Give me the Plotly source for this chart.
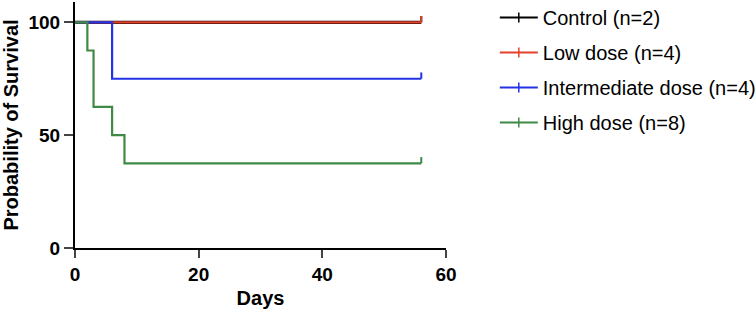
import plotly.graph_objects as go

# Data (Kaplan-Meier steps)
groups = ["Control (n=2)", "Low dose (n=4)", "Intermediate dose (n=4)", "High dose (n=8)"]
control_days = [0, 56]
control_surv = [100, 100]
low_days = [0, 56]
low_surv = [100, 100]
inter_days = [0, 6, 56]
inter_surv = [100, 75, 75]
high_days = [0, 2, 3, 6, 8, 56]
high_surv = [100, 87.5, 62.5, 50, 37.5, 37.5]
x_ticks = [0, 20, 40, 60]
y_ticks = [0, 50, 100]

series = [
    (groups[0], control_days, control_surv, "#000000", 3.2),
    (groups[1], low_days, low_surv, "#E3412B", 2.2),
    (groups[2], inter_days, inter_surv, "#2233E6", 2.2),
    (groups[3], high_days, high_surv, "#3E8A44", 2.2),
]

FONT = "Liberation Sans, Arial, sans-serif"
fig = go.Figure()
tick_h = 2.8
for i, (name, d, s, col, w) in enumerate(series):
    fig.add_trace(go.Scatter(x=d, y=s, mode="lines", line=dict(color=col, width=w, shape="hv"),
                             showlegend=False, legendgroup=f"g{i}", hoverinfo="skip"))
    fig.add_trace(go.Scatter(x=[d[-1], d[-1]], y=[s[-1], s[-1] + tick_h], mode="lines",
                             line=dict(color=col, width=2), showlegend=False,
                             legendgroup=f"g{i}", hoverinfo="skip"))
for i, (name, d, s, col, w) in enumerate(series):
    fig.add_trace(go.Scatter(x=[None], y=[None], mode="lines+markers", name=name,
                             line=dict(color=col, width=2),
                             marker=dict(symbol="line-ns", size=7, line=dict(color=col, width=1.5)),
                             legendgroup=f"g{i}"))

fig.update_layout(
    width=756, height=316,
    margin=dict(l=75, r=310, t=2, b=68, autoexpand=False),
    paper_bgcolor="white", plot_bgcolor="white",
    font=dict(family=FONT, color="#000"),
    legend=dict(xref="container", yref="paper", x=0.6545, y=1.0163, xanchor="left", yanchor="top",
                font=dict(family=FONT, size=20, color="#000"),
                tracegroupgap=6, traceorder="grouped", itemwidth=38,
                bgcolor="rgba(0,0,0,0)"),
    showlegend=True,
)
fig.update_xaxes(range=[0, 60], tickvals=x_ticks, ticks="outside", ticklen=8, tickwidth=2,
                 showline=True, linecolor="black", linewidth=2, showgrid=False, zeroline=False,
                 automargin=False,
                 tickfont=dict(family=FONT, size=19, color="black", weight="bold"),
                 title=dict(text="<b>Days</b>", font=dict(family=FONT, size=20, color="black"), standoff=7))
fig.update_yaxes(range=[0, 109], tickvals=y_ticks, ticks="outside", ticklen=9, tickwidth=2,
                 showline=True, linecolor="black", linewidth=2, showgrid=False, zeroline=False,
                 automargin=False,
                 tickfont=dict(family=FONT, size=19, color="black", weight="bold"),
                 title=dict(text="<b>Probability of Survival</b>", font=dict(family=FONT, size=20, color="black"), standoff=13))

fig.write_html("out.html", config={"displayModeBar": False},
               post_script="document.body.style.margin='0';document.body.style.padding='0';")
